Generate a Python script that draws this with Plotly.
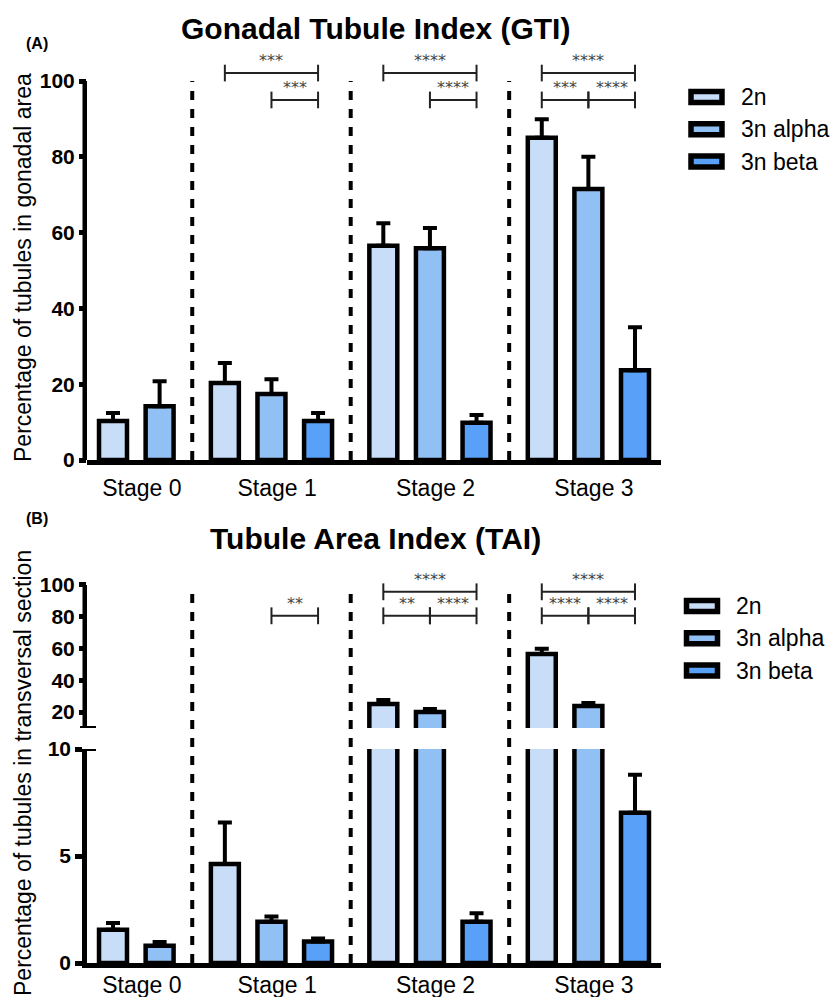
import plotly.graph_objects as go

# ---------------- data ----------------
stages = ["Stage 0", "Stage 1", "Stage 2", "Stage 3"]
groups = ["2n", "3n alpha", "3n beta"]
colors = ["#c8def8", "#91c0f5", "#58a0f8"]

# Gonadal Tubule Index (GTI): mean and upper error (SEM)
gti_2n = [10.3, 20.3, 56.5, 85.0]
gti_2n_err = [2.1, 5.3, 6.0, 4.9]
gti_alpha = [14.2, 17.4, 55.9, 71.5]
gti_alpha_err = [6.6, 3.9, 5.3, 8.5]
gti_beta = [None, 10.3, 9.8, 23.7]
gti_beta_err = [None, 2.1, 2.1, 11.3]

# Tubule Area Index (TAI)
tai_2n = [1.55, 4.63, 25.1, 56.6]
tai_2n_err = [0.32, 1.93, 2.5, 3.2]
tai_alpha = [0.81, 1.93, 20.0, 23.9]
tai_alpha_err = [0.17, 0.24, 2.0, 1.8]
tai_beta = [None, 1.0, 1.93, 7.02]
tai_beta_err = [None, 0.14, 0.39, 1.78]

# significance brackets: (stage, group a, group b, row, label)
gti_sig = [
    ("Stage 1", "2n", "3n beta", 1, "***"),
    ("Stage 1", "3n alpha", "3n beta", 2, "***"),
    ("Stage 2", "2n", "3n beta", 1, "****"),
    ("Stage 2", "3n alpha", "3n beta", 2, "****"),
    ("Stage 3", "2n", "3n beta", 1, "****"),
    ("Stage 3", "2n", "3n alpha", 2, "***"),
    ("Stage 3", "3n alpha", "3n beta", 2, "****"),
]
tai_sig = [
    ("Stage 1", "3n alpha", "3n beta", 2, "**"),
    ("Stage 2", "2n", "3n beta", 1, "****"),
    ("Stage 2", "2n", "3n alpha", 2, "**"),
    ("Stage 2", "3n alpha", "3n beta", 2, "****"),
    ("Stage 3", "2n", "3n beta", 1, "****"),
    ("Stage 3", "2n", "3n alpha", 2, "****"),
    ("Stage 3", "3n alpha", "3n beta", 2, "****"),
]

gti_ticks = [0, 20, 40, 60, 80, 100]
tai_low_ticks = [0, 5, 10]
tai_high_ticks = [20, 40, 60, 80, 100]

# ---------------- layout helpers ----------------
W, H = 830, 997
FONT = "Liberation Sans, Arial, sans-serif"


def px_x(p):
    return p / W


def px_y(p):
    return 1 - p / H


GAP = 0.4
BAR_W = 0.6


def positions(series_list):
    pos = {}
    cur = 0.0
    for si, st in enumerate(stages):
        for g, vals in zip(groups, series_list):
            if vals[si] is not None:
                pos[(st, g)] = cur
                cur += 1
        cur += GAP
    return pos


gti_series = [gti_2n, gti_alpha, gti_beta]
gti_errs = [gti_2n_err, gti_alpha_err, gti_beta_err]
tai_series = [tai_2n, tai_alpha, tai_beta]
tai_errs = [tai_2n_err, tai_alpha_err, tai_beta_err]

pos_gti = positions(gti_series)
pos_tai = positions(tai_series)

X_RANGE = [-0.558, 11.758]
X_DOM = [px_x(87), px_x(661)]
Y1_DOM = [px_y(460), px_y(43.1)]
Y1_RANGE = [0, 110]
Y2_DOM = [px_y(963), px_y(749)]
Y2_RANGE = [0, 10]
Y3_DOM = [px_y(728), px_y(565.9)]
Y3_RANGE = [10, 112]

fig = go.Figure()


def add_bars(series, errs, pos, xa, ya, ymin=None):
    for g, col, vals, ev in zip(groups, colors, series, errs):
        xs, ys, es = [], [], []
        for si, st in enumerate(stages):
            v = vals[si]
            if v is None or (ymin is not None and v <= ymin):
                continue
            xs.append(pos[(st, g)])
            ys.append(v)
            es.append(ev[si])
        fig.add_trace(go.Bar(
            x=xs, y=ys, name=g, width=BAR_W, xaxis=xa, yaxis=ya,
            marker=dict(color=col, line=dict(color="black", width=4.5)),
            error_y=dict(type="data", symmetric=False, array=es,
                         arrayminus=[0] * len(es), color="black",
                         thickness=4, width=7),
            showlegend=False,
        ))


add_bars(gti_series, gti_errs, pos_gti, "x", "y")
add_bars(tai_series, tai_errs, pos_tai, "x2", "y2")
add_bars(tai_series, tai_errs, pos_tai, "x3", "y3", ymin=Y3_RANGE[0])


def stage_centers(pos):
    out = []
    for st in stages:
        ps = [v for (s, g), v in pos.items() if s == st]
        out.append(sum(ps) / len(ps) + 0.12)
    return out


def separators(pos):
    out = []
    for a, b in zip(stages[:-1], stages[1:]):
        last = max(v for (s, g), v in pos.items() if s == a)
        first = min(v for (s, g), v in pos.items() if s == b)
        out.append((last + first) / 2)
    return out


dash = dict(color="black", width=4, dash="9px,9px")
for xs in separators(pos_gti):
    fig.add_shape(type="line", xref="x", yref="y", x0=xs, x1=xs, y0=0, y1=100,
                  line=dash)
y_top100 = Y3_DOM[0] + (100 - Y3_RANGE[0]) / (Y3_RANGE[1] - Y3_RANGE[0]) * (Y3_DOM[1] - Y3_DOM[0])
for xs in separators(pos_tai):
    fig.add_shape(type="line", xref="x2", yref="paper", x0=xs, x1=xs,
                  y0=Y2_DOM[0], y1=y_top100, line=dash)

# custom axis lines where the range extends above the axis end
axis_line = dict(color="black", width=4.5)
fig.add_shape(type="line", xref="paper", yref="y", x0=X_DOM[0] - 2.25 / W,
              x1=X_DOM[0] - 2.25 / W, y0=0, y1=100, line=axis_line)
fig.add_shape(type="line", xref="paper", yref="y3", x0=X_DOM[0] - 2.25 / W,
              x1=X_DOM[0] - 2.25 / W, y0=10, y1=100, line=axis_line)
# break caps
for yref, yv in (("y3", 10), ("y2", 10)):
    fig.add_shape(type="line", xref="paper", yref=yref, x0=px_x(80), x1=px_x(96),
                  y0=yv, y1=yv, line=dict(color="black", width=4))


def add_brackets(sig, pos, xref, yref, levels, tick):
    for st, ga, gb, row, label in sig:
        xa, xb = pos[(st, ga)], pos[(st, gb)]
        y = levels[row]
        ln = dict(color="#222", width=2)
        fig.add_shape(type="line", xref=xref, yref=yref, x0=xa, x1=xb, y0=y, y1=y, line=ln)
        for xe in (xa, xb):
            fig.add_shape(type="line", xref=xref, yref=yref, x0=xe, x1=xe,
                          y0=y - tick, y1=y + tick, line=ln)
        fig.add_annotation(x=(xa + xb) / 2, y=y, xref=xref, yref=yref, text=label,
                           showarrow=False, xanchor="center", yanchor="bottom", yshift=1,
                           font=dict(family="DejaVu Sans", size=16, color="#444"))


add_brackets(gti_sig, pos_gti, "x", "y", {1: 102.1, 2: 95.0}, 2.2)
add_brackets(tai_sig, pos_tai, "x3", "y3", {1: 95.7, 2: 80.6}, 5.3)


def label(x, y, text, size, bold=False, angle=0, xanchor="center"):
    fig.add_annotation(xref="paper", yref="paper", x=px_x(x), y=px_y(y), text=text,
                       showarrow=False, xanchor=xanchor, yanchor="middle", textangle=angle,
                       font=dict(family=FONT, size=size, color="black",
                                 weight="bold" if bold else "normal"))


label(375, 28, "Gonadal Tubule Index (GTI)", 30, bold=True)
label(375, 538, "Tubule Area Index (TAI)", 30, bold=True)
label(37, 44, "(A)", 16, bold=True)
label(37, 518, "(B)", 16, bold=True)
label(23, 268, "Percentage of tubules in gonadal area", 23, angle=-90)
label(23, 773, "Percentage of tubules in transversal section", 23, angle=-90)

# legends (drawn)
for (bx, by0, tx) in ((706.5, 97, 739), (702, 606, 734)):
    for i, (g, col) in enumerate(zip(groups, colors)):
        yc = by0 + i * 32.3
        fig.add_shape(type="rect", xref="paper", yref="paper",
                      x0=px_x(bx - 15.5), x1=px_x(bx + 15.5),
                      y0=px_y(yc + 5.5), y1=px_y(yc - 5.5),
                      fillcolor=col, line=dict(color="black", width=5.5))
        label(tx, yc, g, 23, xanchor="left")

xaxis_common = dict(range=X_RANGE, domain=X_DOM, showgrid=False, zeroline=False,
                    showline=True, linecolor="black", linewidth=4.5, ticks="",
                    automargin=False,
                    tickfont=dict(family=FONT, size=23, color="black"))
yaxis_common = dict(showgrid=False, zeroline=False, ticks="outside", ticklen=7,
                    tickwidth=4.5, tickcolor="black", automargin=False,
                    tickfont=dict(family=FONT, size=21, color="black", weight="bold"))

fig.update_layout(
    width=W, height=H, margin=dict(l=0, r=0, t=0, b=0, autoexpand=False),
    paper_bgcolor="white", plot_bgcolor="white", barmode="overlay",
    showlegend=False,
    xaxis=dict(**xaxis_common, anchor="y", tickvals=stage_centers(pos_gti), ticktext=stages,
               ticklabelstandoff=4),
    yaxis=dict(**yaxis_common, domain=Y1_DOM, range=Y1_RANGE, tickvals=gti_ticks,
               showline=False, anchor="x"),
    xaxis2=dict(**xaxis_common, anchor="y2", tickvals=stage_centers(pos_tai), ticktext=stages,
                ticklabelstandoff=-2),
    yaxis2=dict(**yaxis_common, domain=Y2_DOM, range=Y2_RANGE, tickvals=tai_low_ticks,
                showline=True, linecolor="black", linewidth=4.5, anchor="x2"),
    xaxis3=dict(range=X_RANGE, domain=X_DOM, visible=False, anchor="y3", matches="x2",
                automargin=False),
    yaxis3=dict(**yaxis_common, domain=Y3_DOM, range=Y3_RANGE, tickvals=tai_high_ticks,
                showline=False, anchor="x3"),
)

fig.write_html("out.html", config={"displayModeBar": False},
               post_script="document.body.style.margin='0';document.body.style.overflow='hidden';")
